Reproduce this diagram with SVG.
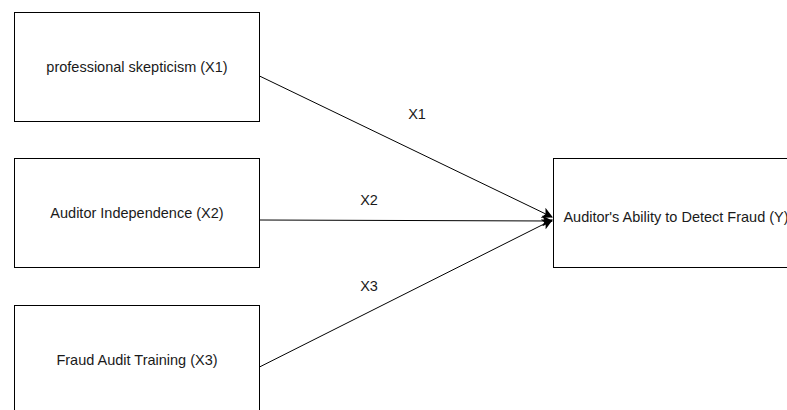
<svg xmlns="http://www.w3.org/2000/svg" width="787" height="410" viewBox="0 0 787 410">
<style>
.box{fill:#fff;stroke:#000;stroke-width:1}
.t{font-family:"Liberation Sans",Arial,sans-serif;font-size:14.5px;fill:#1a1a1a;text-anchor:middle;dominant-baseline:central}
.c{fill:none;stroke:#000;stroke-width:1}
</style>
<defs>
<marker id="ah" viewBox="0 0 10 10" refX="9" refY="5" markerWidth="11" markerHeight="11" markerUnits="userSpaceOnUse" orient="auto">
<path d="M0,0 L10,5 L0,10 L2.5,5 Z" fill="#000"/>
</marker>
</defs>
<rect width="787" height="410" fill="#fff"/>
<g id="connectors">
<line class="c" x1="259.5" y1="76" x2="552" y2="217" marker-end="url(#ah)"/>
<line class="c" x1="259.5" y1="220" x2="552" y2="221" marker-end="url(#ah)"/>
<line class="c" x1="259.5" y1="367" x2="552" y2="220" marker-end="url(#ah)"/>
<text class="t" x="417" y="114">X1</text>
<text class="t" x="369" y="200">X2</text>
<text class="t" x="369" y="286">X3</text>
</g>
<g id="x1">
<rect class="box" x="14.5" y="12.5" width="245" height="109"/>
<text class="t" x="137" y="67">professional skepticism (X1)</text>
</g>
<g id="x2">
<rect class="box" x="14.5" y="158.5" width="245" height="109"/>
<text class="t" x="137" y="213">Auditor Independence (X2)</text>
</g>
<g id="x3">
<rect class="box" x="14.5" y="305.5" width="245" height="109"/>
<text class="t" x="137" y="360">Fraud Audit Training (X3)</text>
</g>
<g id="y">
<rect class="box" x="553.5" y="158.5" width="245" height="109"/>
<text class="t" x="676" y="217">Auditor's Ability to Detect Fraud (Y)</text>
</g>
</svg>
